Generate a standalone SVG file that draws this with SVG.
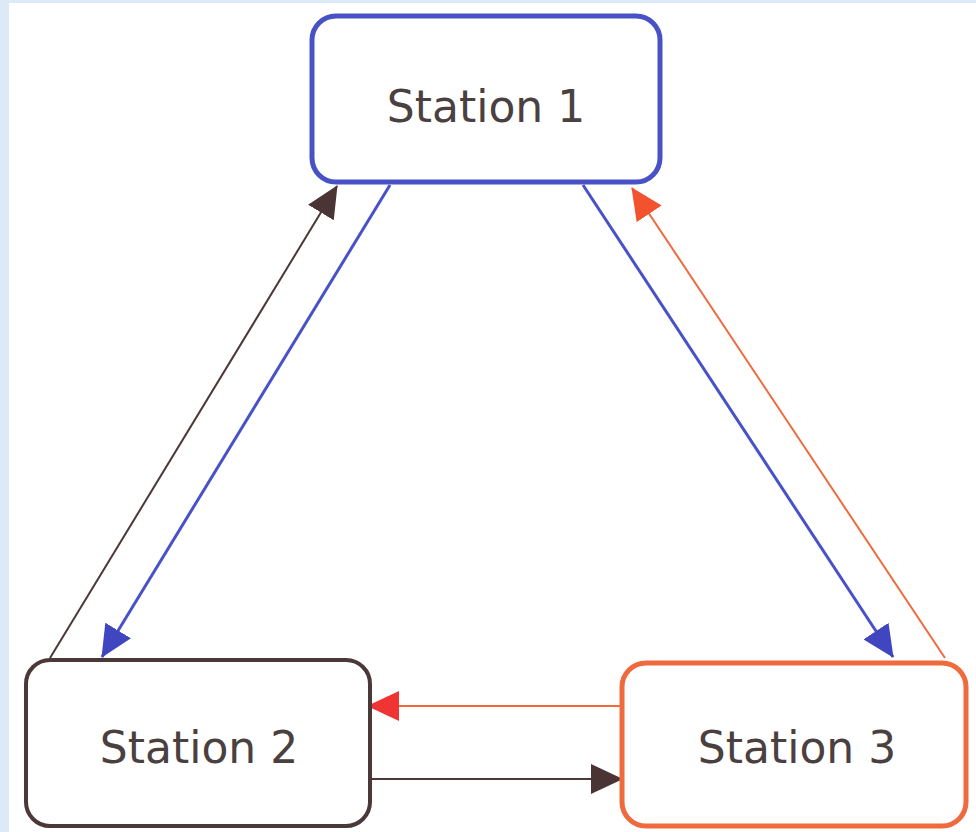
<svg xmlns="http://www.w3.org/2000/svg" width="976" height="832" viewBox="0 0 976 832">
<defs>
<style>
.box{fill:#ffffff;}
.lbl{font-family:"DejaVu Sans",Verdana,sans-serif;font-size:44px;fill:#4a4040;text-anchor:middle;}
.blue{stroke:#4852c6;stroke-width:3;fill:none;}
.brown{stroke:#4b3838;stroke-width:2;fill:none;}
.orange{stroke:#ef6a3c;stroke-width:2;fill:none;}
</style>
<marker id="ahBlue" viewBox="0 0 32 30" markerUnits="userSpaceOnUse" markerWidth="32" markerHeight="30" refX="31" refY="15" orient="auto"><path d="M0,0 L32,15 L0,30 z" fill="#4046c0"/></marker>
<marker id="ahBrown" viewBox="0 0 32 30" markerUnits="userSpaceOnUse" markerWidth="32" markerHeight="30" refX="31" refY="15" orient="auto"><path d="M0,0 L32,15 L0,30 z" fill="#4b3434"/></marker>
<marker id="ahOrange" viewBox="0 0 32 30" markerUnits="userSpaceOnUse" markerWidth="32" markerHeight="30" refX="31" refY="15" orient="auto"><path d="M0,0 L32,15 L0,30 z" fill="#f2532e"/></marker>
<marker id="ahRed" viewBox="0 0 32 30" markerUnits="userSpaceOnUse" markerWidth="32" markerHeight="30" refX="31" refY="15" orient="auto"><path d="M0,0 L32,15 L0,30 z" fill="#f03434"/></marker>
</defs>
<rect x="0" y="0" width="976" height="832" fill="#dde9f6"/>
<rect x="9" y="3" width="967" height="829" fill="#ffffff"/>
<g id="connectors">
<line class="brown" x1="50" y1="658" x2="337" y2="186" marker-end="url(#ahBrown)"/>
<line class="blue" x1="390" y1="185" x2="102" y2="657" marker-end="url(#ahBlue)"/>
<line class="blue" x1="583" y1="185" x2="893" y2="657" marker-end="url(#ahBlue)"/>
<line class="orange" x1="945" y1="658" x2="632" y2="188" marker-end="url(#ahOrange)"/>
<line class="orange" x1="624" y1="706" x2="368" y2="706" marker-end="url(#ahRed)"/>
<line class="brown" x1="364" y1="779" x2="622" y2="779" marker-end="url(#ahBrown)"/>
</g>
<g id="station1">
<rect class="box" x="312" y="16" width="348" height="166" rx="24" ry="24" stroke="#4852c6" stroke-width="5"/>
<text class="lbl" x="486" y="122">Station 1</text>
</g>
<g id="station2">
<rect class="box" x="26" y="660" width="344" height="166" rx="24" ry="24" stroke="#4b3838" stroke-width="4"/>
<text class="lbl" x="199" y="763">Station 2</text>
</g>
<g id="station3">
<rect class="box" x="622" y="663" width="344" height="163" rx="24" ry="24" stroke="#ef6a3c" stroke-width="5"/>
<text class="lbl" x="797" y="763">Station 3</text>
</g>
</svg>
